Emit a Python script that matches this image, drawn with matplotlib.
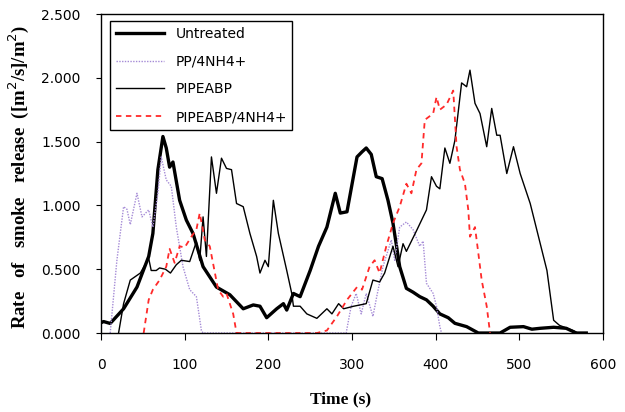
import matplotlib
matplotlib.use("Agg")
import matplotlib.pyplot as plt
from matplotlib.ticker import FormatStrFormatter

# ── data (time in s, rate in (m2/s)/m2) ──
untreated_t = [0, 3, 11, 27, 43, 57, 62, 68, 74, 78, 82, 86, 94, 102, 110, 122, 138, 154,
               170, 182, 190, 198, 210, 218, 222, 230, 238, 250, 260, 270, 280, 286, 294,
               306, 312, 317, 323, 329, 336, 343, 349, 357, 365, 373, 381, 389, 397, 405,
               415, 423, 437, 451, 477, 489, 505, 515, 525, 541, 556, 568, 580]
untreated_y = [0.08, 0.09, 0.075, 0.19, 0.36, 0.60, 0.78, 1.28, 1.54, 1.45, 1.30, 1.34, 1.04,
               0.885, 0.78, 0.52, 0.36, 0.30, 0.19, 0.22, 0.21, 0.12, 0.19, 0.23, 0.18, 0.31,
               0.285, 0.49, 0.68, 0.83, 1.095, 0.94, 0.95, 1.38, 1.42, 1.45, 1.40, 1.225, 1.21,
               1.04, 0.86, 0.52, 0.35, 0.32, 0.285, 0.26, 0.21, 0.15, 0.12, 0.076, 0.05, 0.0,
               0.0, 0.045, 0.05, 0.03, 0.037, 0.045, 0.037, 0.0, 0.0]

pp_t = [11, 19, 27, 31, 35, 43, 49, 57, 62, 68, 72, 78, 84, 90, 98, 106, 114, 120,
        122, 293, 299, 305, 311, 317, 325, 330, 337, 347, 351, 357, 365, 373, 381, 385,
        389, 397, 401, 405, 407]
pp_y = [0.0, 0.57, 0.99, 0.97, 0.85, 1.095, 0.91, 0.965, 0.83, 1.095, 1.38, 1.2, 1.15,
        0.83, 0.52, 0.34, 0.285, 0.02, 0.0, 0.0, 0.21, 0.31, 0.15, 0.31, 0.13, 0.30, 0.52,
        0.73, 0.57, 0.83, 0.87, 0.81, 0.68, 0.72, 0.39, 0.31, 0.21, 0.05, 0.0]

pipeabp_t = [21, 27, 35, 47, 57, 60, 66, 70, 77, 83, 90, 96, 106, 114, 118, 122, 126, 132,
             138, 144, 150, 156, 162, 170, 178, 186, 190, 196, 200, 206, 212, 222, 228, 230,
             238, 246, 258, 270, 276, 284, 290, 302, 317, 325, 333, 339, 349, 355, 361, 365,
             377, 389, 395, 401, 405, 411, 417, 423, 431, 437, 441, 447, 453, 461, 467, 473,
             477, 485, 493, 501, 513, 525, 533, 541, 548, 556, 564, 570]
pipeabp_y = [0.0, 0.23, 0.415, 0.47, 0.585, 0.49, 0.49, 0.51, 0.50, 0.47, 0.535, 0.57, 0.56,
             0.715, 0.57, 0.91, 0.60, 1.38, 1.095, 1.37, 1.29, 1.28, 1.015, 0.99, 0.78, 0.60,
             0.47, 0.57, 0.52, 1.04, 0.78, 0.49, 0.31, 0.21, 0.21, 0.15, 0.115, 0.19, 0.15,
             0.23, 0.19, 0.21, 0.23, 0.415, 0.40, 0.47, 0.68, 0.52, 0.70, 0.64, 0.80, 0.965,
             1.225, 1.15, 1.13, 1.45, 1.33, 1.51, 1.96, 1.93, 2.06, 1.80, 1.72, 1.46, 1.76,
             1.55, 1.55, 1.25, 1.46, 1.25, 1.015, 0.70, 0.49, 0.10, 0.06, 0.04, 0.02, 0.0]

pipe_nh4_t = [51, 57, 62, 70, 78, 82, 88, 94, 100, 108, 114, 118, 124, 130, 140, 146, 150,
              158, 162, 258, 270, 282, 294, 306, 312, 321, 327, 333, 341, 349, 357, 365,
              371, 377, 383, 387, 397, 401, 405, 413, 421, 425, 429, 435, 439, 441, 447, 451,
              455, 461, 465]
pipe_nh4_y = [0.0, 0.26, 0.34, 0.415, 0.52, 0.66, 0.55, 0.68, 0.67, 0.755, 0.81, 0.94, 0.73,
              0.68, 0.34, 0.285, 0.31, 0.15, 0.0, 0.0, 0.02, 0.13, 0.26, 0.36, 0.34, 0.52,
              0.57, 0.47, 0.68, 0.86, 0.99, 1.17, 1.095, 1.28, 1.33, 1.67, 1.72, 1.85, 1.75,
              1.79, 1.90, 1.46, 1.28, 1.17, 0.965, 0.755, 0.83, 0.625, 0.415, 0.21, 0.0]

series_labels = ["Untreated", "PP/4NH4+", "PIPEABP", "PIPEABP/4NH4+"]

# ── figure ──
fig = plt.figure(figsize=(6.25, 4.12), dpi=100)
ax = fig.add_axes([0.1616, 0.1917, 0.8032, 0.7743])

ax.plot(untreated_t, untreated_y, color="black", lw=2.4, label=series_labels[0])
ax.plot(pp_t, pp_y, color="#a58bd6", lw=1.0, ls=(0, (1, 1)), label=series_labels[1])
ax.plot(pipeabp_t, pipeabp_y, color="black", lw=1.0, label=series_labels[2])
ax.plot(pipe_nh4_t, pipe_nh4_y, color="#ff2a2a", lw=1.3, ls=(0, (3, 2.5)),
        label=series_labels[3])

ax.set_xlim(0, 600)
ax.set_ylim(0, 2.5)
ax.set_xticks(range(0, 601, 100))
ax.set_yticks([0, 0.5, 1.0, 1.5, 2.0, 2.5])
ax.yaxis.set_major_formatter(FormatStrFormatter("%.3f"))
ax.tick_params(axis="x", direction="out", length=5, pad=13, labelsize=10)
ax.tick_params(axis="y", direction="out", length=3.5, pad=11, labelsize=10)
for sp in ax.spines.values():
    sp.set_linewidth(1.0)

ax.set_xlabel("Time (s)", family="Liberation Serif", weight="bold", fontsize=12.5)
ax.xaxis.set_label_coords(0.478, -0.183)
ax.set_ylabel("Rate   of   smoke   release  ([m$^2$/s]/m$^2$)", family="Liberation Serif",
              weight="bold", fontsize=13.5)
ax.yaxis.set_label_coords(-0.14, 0.49)

leg = ax.legend(loc="upper left", bbox_to_anchor=(0.018, 0.978), borderaxespad=0,
                fontsize=10, handlelength=3.5, labelspacing=1.0, fancybox=False,
                edgecolor="black", framealpha=1)
leg.get_frame().set_linewidth(1.0)

fig.savefig("out.png", dpi=100)
